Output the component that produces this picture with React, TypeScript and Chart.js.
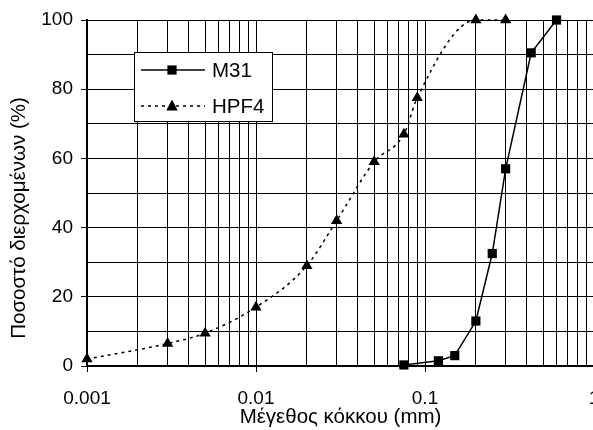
import React, { useEffect, useRef } from 'react';
import { Chart, registerables } from 'chart.js';

Chart.register(...registerables);

// Particle size (mm) and percent passing
const m31Sizes = [0.075, 0.12, 0.15, 0.2, 0.25, 0.3, 0.425, 0.6];
const m31Passing = [0.3, 1.5, 3, 13, 32.5, 57, 90.5, 100];
const hpf4Sizes = [0.001, 0.003, 0.005, 0.01, 0.02, 0.03, 0.05, 0.075, 0.09, 0.2, 0.3];
const hpf4Passing = [2, 6.5, 9.5, 17, 29, 42, 59, 67, 77.5, 100, 100];

const decades = [0.001, 0.01, 0.1, 1];
const decadeLabels = ['0.001', '0.01', '0.1', '1'];
const mantissas = [1, 2, 3, 4, 5, 6, 7, 8, 9];
const yLabelStep = 20;
const yGridStep = 10;

const seriesNames = ['M31', 'HPF4'];
const xTitle = 'Μέγεθος κόκκου (mm)';
const yTitle = 'Ποσοστό διερχομένων (%)';

const FONT = '"Liberation Sans", Arial, sans-serif';
const TICK_SIZE = 19;
const TITLE_SIZE = 20.5;

const decadeIndex = (v: number) =>
  decades.findIndex((d) => Math.abs(v - d) / d < 1e-6);

const legendPlugin = {
  id: 'boxLegend',
  beforeDatasetsDraw(chart: any) {
    const { ctx, chartArea } = chart;
    const x = Math.round(chartArea.left + 47);
    const y = Math.round(chartArea.top + 32);
    const w = 138;
    const h = 69;
    ctx.save();
    ctx.fillStyle = '#fff';
    ctx.fillRect(x, y, w, h);
    ctx.strokeStyle = '#000';
    ctx.lineWidth = 1;
    ctx.strokeRect(x + 0.5, y + 0.5, w, h);

    const rows = [
      { name: seriesNames[0], dash: [] as number[], marker: 'rect' },
      { name: seriesNames[1], dash: [3, 4], marker: 'triangle' },
    ];
    rows.forEach((r, i) => {
      const cy = y + 18 + i * 36;
      const x0 = x + 7;
      const x1 = x + 71;
      const mx = x + 38;
      ctx.beginPath();
      ctx.setLineDash(r.dash);
      ctx.lineWidth = 1.5;
      ctx.strokeStyle = '#000';
      ctx.moveTo(x0, cy);
      ctx.lineTo(x1, cy);
      ctx.stroke();
      ctx.setLineDash([]);
      ctx.fillStyle = '#000';
      if (r.marker === 'rect') {
        ctx.fillRect(mx - 4.6, cy - 4.6, 9.2, 9.2);
      } else {
        ctx.beginPath();
        ctx.moveTo(mx, cy - 6.5);
        ctx.lineTo(mx + 5.7, cy + 4.5);
        ctx.lineTo(mx - 5.7, cy + 4.5);
        ctx.closePath();
        ctx.fill();
      }
      ctx.font = `${TITLE_SIZE}px ${FONT}`;
      ctx.textBaseline = 'middle';
      ctx.textAlign = 'left';
      ctx.fillText(r.name, x + 78, cy + 1);
    });
    ctx.restore();
  },
};

const yTitlePlugin = {
  id: 'yTitle',
  afterDraw(chart: any) {
    const { ctx, chartArea } = chart;
    ctx.save();
    ctx.translate(19, chartArea.top + 198);
    ctx.rotate(-Math.PI / 2);
    ctx.font = `${TITLE_SIZE}px ${FONT}`;
    ctx.fillStyle = '#000';
    ctx.textAlign = 'center';
    ctx.textBaseline = 'middle';
    ctx.fillText(yTitle, 0, 0);
    ctx.restore();
  },
};

export default function App() {
  const canvasRef = useRef<HTMLCanvasElement | null>(null);

  useEffect(() => {
    document.body.style.overflow = 'hidden';
    const canvas = canvasRef.current;
    if (!canvas) return;

    const xTicks: number[] = [];
    decades.slice(0, 3).forEach((d) => mantissas.forEach((m) => xTicks.push(m * d)));
    xTicks.push(decades[3]);

    const chart = new Chart(canvas, {
      type: 'line',
      data: {
        datasets: [
          {
            label: seriesNames[0],
            data: m31Sizes.map((s, i) => ({ x: s, y: m31Passing[i] })),
            borderColor: '#000',
            backgroundColor: '#000',
            borderWidth: 1.5,
            pointStyle: 'rect',
            pointRadius: 6.5,
            pointBorderWidth: 0,
            tension: 0,
            clip: false,
          },
          {
            label: seriesNames[1],
            data: hpf4Sizes.map((s, i) => ({ x: s, y: hpf4Passing[i] })),
            borderColor: '#000',
            backgroundColor: '#000',
            borderWidth: 1.5,
            borderDash: [3, 4],
            pointStyle: 'triangle',
            pointRadius: 6.5,
            pointBorderWidth: 0,
            cubicInterpolationMode: 'monotone',
            clip: false,
          },
        ],
      },
      options: {
        responsive: true,
        maintainAspectRatio: false,
        animation: false,
        layout: { padding: { left: 0, top: 20, right: 26, bottom: 0 } },
        plugins: {
          legend: { display: false },
          tooltip: { enabled: false },
        },
        scales: {
          x: {
            type: 'logarithmic',
            min: decades[0],
            max: decades[3],
            afterBuildTicks: (scale: any) => {
              scale.ticks = xTicks.map((v) => ({ value: v, major: decadeIndex(v) >= 0 }));
            },
            afterFit: (scale: any) => {
              scale.height = 64;
            },
            ticks: {
              autoSkip: false,
              maxRotation: 0,
              padding: 15,
              color: '#000',
              font: { family: FONT, size: TICK_SIZE },
              callback: (value: any) => {
                const i = decadeIndex(Number(value));
                return i >= 0 ? decadeLabels[i] : '';
              },
            },
            grid: {
              color: '#000',
              lineWidth: 1,
              tickLength: 6,
              tickColor: (ctx: any) =>
                ctx.tick && decadeIndex(ctx.tick.value) >= 0 ? '#000' : 'rgba(0,0,0,0)',
            },
            border: { color: '#000', width: 2 },
            title: {
              display: true,
              text: xTitle,
              color: '#000',
              font: { family: FONT, size: TITLE_SIZE },
              padding: { top: 0, bottom: 0 },
            },
          },
          y: {
            type: 'linear',
            min: 0,
            max: 100,
            afterFit: (scale: any) => {
              scale.width = 87;
            },
            ticks: {
              stepSize: yGridStep,
              padding: 8,
              color: '#000',
              font: { family: FONT, size: TICK_SIZE },
              callback: (value: any) => (Number(value) % yLabelStep === 0 ? String(value) : ''),
            },
            grid: {
              color: '#000',
              lineWidth: 1,
              tickLength: 6,
              tickColor: (ctx: any) =>
                ctx.tick && ctx.tick.value % yLabelStep === 0 ? '#000' : 'rgba(0,0,0,0)',
            },
            border: { color: '#000', width: 2 },
            title: { display: false },
          },
        },
      },
      plugins: [legendPlugin, yTitlePlugin],
    } as any);

    return () => chart.destroy();
  }, []);

  return (
    <div style={{ position: 'absolute', left: 0, top: 0, width: 620, height: 430 }}>
      <canvas ref={canvasRef} />
    </div>
  );
}
